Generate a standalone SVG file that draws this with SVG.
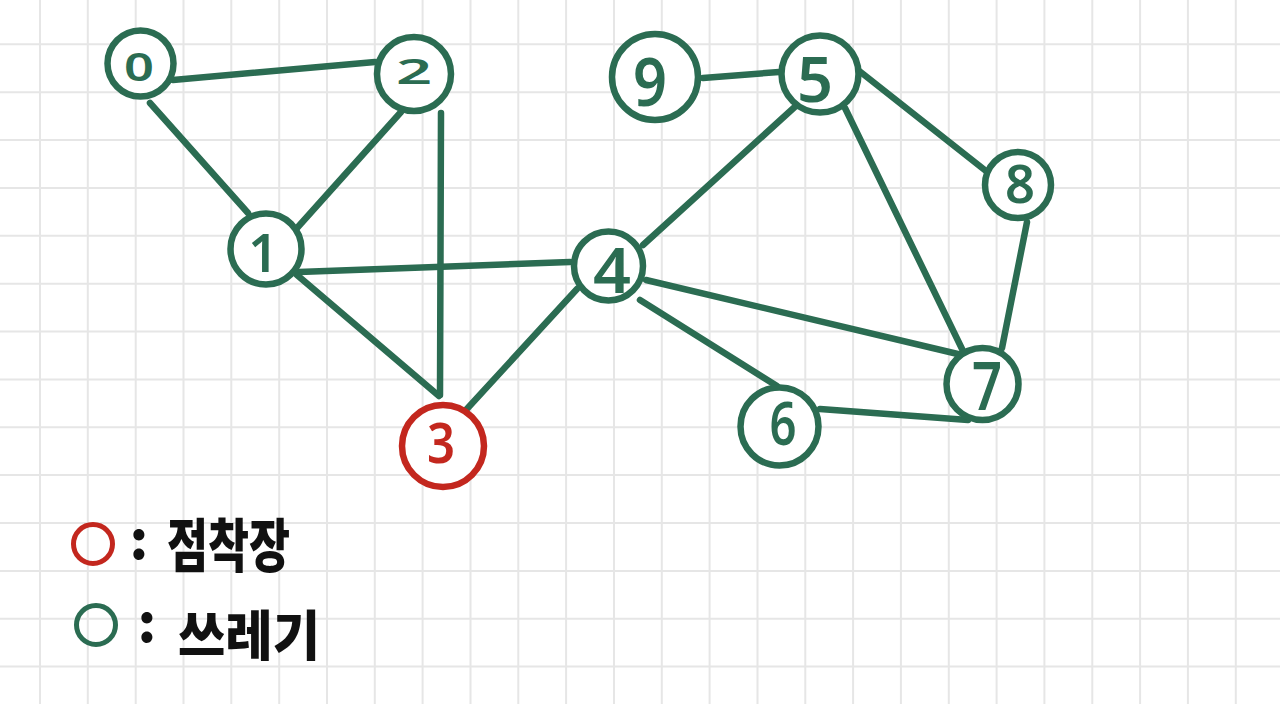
<svg xmlns="http://www.w3.org/2000/svg" width="1280" height="704" viewBox="0 0 1280 704">
<style>
.grid line{stroke:#e6e6e6;stroke-width:2}
.edge{stroke:#2b6c52;stroke-width:6.5;stroke-linecap:round;fill:none}
.node circle{fill:#ffffff;stroke:#2b6c52;stroke-width:6.5}
.node text{fill:#2b6c52;font-family:"Noto Sans","DejaVu Sans",sans-serif;font-weight:600;text-anchor:middle}
.red circle{stroke:#c3271e}
.red text{fill:#c3271e}
.legend text{font-family:"Noto Sans CJK KR","Noto Sans",sans-serif;font-weight:900;fill:#111111}
</style>
<rect width="1280" height="704" fill="#ffffff"/>
<g class="grid">
<line x1="40" y1="0" x2="40" y2="704"/><line x1="87.8" y1="0" x2="87.8" y2="704"/><line x1="135.7" y1="0" x2="135.7" y2="704"/><line x1="183.5" y1="0" x2="183.5" y2="704"/><line x1="231.3" y1="0" x2="231.3" y2="704"/><line x1="279.2" y1="0" x2="279.2" y2="704"/><line x1="327" y1="0" x2="327" y2="704"/><line x1="374.8" y1="0" x2="374.8" y2="704"/><line x1="422.6" y1="0" x2="422.6" y2="704"/><line x1="470.5" y1="0" x2="470.5" y2="704"/><line x1="518.3" y1="0" x2="518.3" y2="704"/><line x1="566.1" y1="0" x2="566.1" y2="704"/><line x1="614" y1="0" x2="614" y2="704"/><line x1="661.8" y1="0" x2="661.8" y2="704"/><line x1="709.6" y1="0" x2="709.6" y2="704"/><line x1="757.5" y1="0" x2="757.5" y2="704"/><line x1="805.3" y1="0" x2="805.3" y2="704"/><line x1="853.1" y1="0" x2="853.1" y2="704"/><line x1="900.9" y1="0" x2="900.9" y2="704"/><line x1="948.8" y1="0" x2="948.8" y2="704"/><line x1="996.6" y1="0" x2="996.6" y2="704"/><line x1="1044.4" y1="0" x2="1044.4" y2="704"/><line x1="1092.3" y1="0" x2="1092.3" y2="704"/><line x1="1140.1" y1="0" x2="1140.1" y2="704"/><line x1="1187.9" y1="0" x2="1187.9" y2="704"/><line x1="1235.8" y1="0" x2="1235.8" y2="704"/>
<line x1="0" y1="44.3" x2="1280" y2="44.3"/><line x1="0" y1="92.2" x2="1280" y2="92.2"/><line x1="0" y1="140" x2="1280" y2="140"/><line x1="0" y1="187.9" x2="1280" y2="187.9"/><line x1="0" y1="235.8" x2="1280" y2="235.8"/><line x1="0" y1="283.7" x2="1280" y2="283.7"/><line x1="0" y1="331.5" x2="1280" y2="331.5"/><line x1="0" y1="379.4" x2="1280" y2="379.4"/><line x1="0" y1="427.3" x2="1280" y2="427.3"/><line x1="0" y1="475.1" x2="1280" y2="475.1"/><line x1="0" y1="523" x2="1280" y2="523"/><line x1="0" y1="570.9" x2="1280" y2="570.9"/><line x1="0" y1="618.7" x2="1280" y2="618.7"/><line x1="0" y1="666.6" x2="1280" y2="666.6"/>
</g>
<g id="connectors">
<line class="edge" x1="173" y1="80" x2="375" y2="62"/>
<line class="edge" x1="150" y1="103" x2="248" y2="213"/>
<line class="edge" x1="401" y1="112" x2="297" y2="228"/>
<line class="edge" x1="441" y1="113" x2="440" y2="395"/>
<line class="edge" x1="299" y1="272" x2="570" y2="262"/>
<line class="edge" x1="297" y1="275" x2="439" y2="396"/>
<line class="edge" x1="465" y1="411" x2="577" y2="289"/>
<line class="edge" x1="643" y1="245" x2="798" y2="104"/>
<line class="edge" x1="646" y1="280" x2="962" y2="355"/>
<line class="edge" x1="640" y1="300" x2="777" y2="386"/>
<line class="edge" x1="703" y1="78" x2="779" y2="72"/>
<line class="edge" x1="858" y1="70" x2="986" y2="171"/>
<line class="edge" x1="845" y1="108" x2="964" y2="353"/>
<line class="edge" x1="1027" y1="222" x2="1002" y2="348"/>
<line class="edge" x1="820" y1="409" x2="968" y2="420"/>
</g>
<g id="node0" class="node"><circle cx="140.5" cy="63.5" r="33"/><text x="139" y="81" font-size="40" textLength="30" lengthAdjust="spacingAndGlyphs">0</text></g>
<g id="node2" class="node"><circle cx="414" cy="74" r="37"/><text x="414" y="84" font-size="34" textLength="36" lengthAdjust="spacingAndGlyphs">2</text></g>
<g id="node1" class="node"><circle cx="266" cy="249" r="35.5"/><text x="263" y="272" font-size="52">1</text></g>
<g id="node3" class="node red"><circle cx="443" cy="446" r="41"/><text x="441" y="463" font-size="56" textLength="28" lengthAdjust="spacingAndGlyphs">3</text></g>
<g id="node4" class="node"><circle cx="608.5" cy="266" r="34.5"/><text x="612" y="293" font-size="63" textLength="38" lengthAdjust="spacingAndGlyphs">4</text></g>
<g id="node9" class="node"><circle cx="655" cy="77" r="43"/><text x="650" y="106" font-size="66" textLength="34" lengthAdjust="spacingAndGlyphs">9</text></g>
<g id="node5" class="node"><circle cx="820" cy="74" r="38.5"/><text x="815" y="102" font-size="63" textLength="36" lengthAdjust="spacingAndGlyphs">5</text></g>
<g id="node8" class="node"><circle cx="1018" cy="185" r="33"/><text x="1020" y="203" font-size="53" textLength="30" lengthAdjust="spacingAndGlyphs">8</text></g>
<g id="node7" class="node"><circle cx="982.5" cy="384" r="36"/><text x="987" y="410" font-size="67" textLength="30" lengthAdjust="spacingAndGlyphs">7</text></g>
<g id="node6" class="node"><circle cx="779.5" cy="426.5" r="39"/><text x="783" y="445" font-size="60" textLength="27" lengthAdjust="spacingAndGlyphs">6</text></g>
<g id="legend" class="legend">
<circle cx="93" cy="544" r="19.5" fill="none" stroke="#c3271e" stroke-width="5"/>
<text x="139" y="559" font-size="52" text-anchor="middle">:</text>
<text x="167" y="567" font-size="58" textLength="123" lengthAdjust="spacingAndGlyphs">점착장</text>
<circle cx="96" cy="625" r="19.5" fill="none" stroke="#2b6c52" stroke-width="5"/>
<text x="147" y="642" font-size="52" text-anchor="middle">:</text>
<text x="178" y="656" font-size="54" textLength="142" lengthAdjust="spacingAndGlyphs">쓰레기</text>
</g>
</svg>
